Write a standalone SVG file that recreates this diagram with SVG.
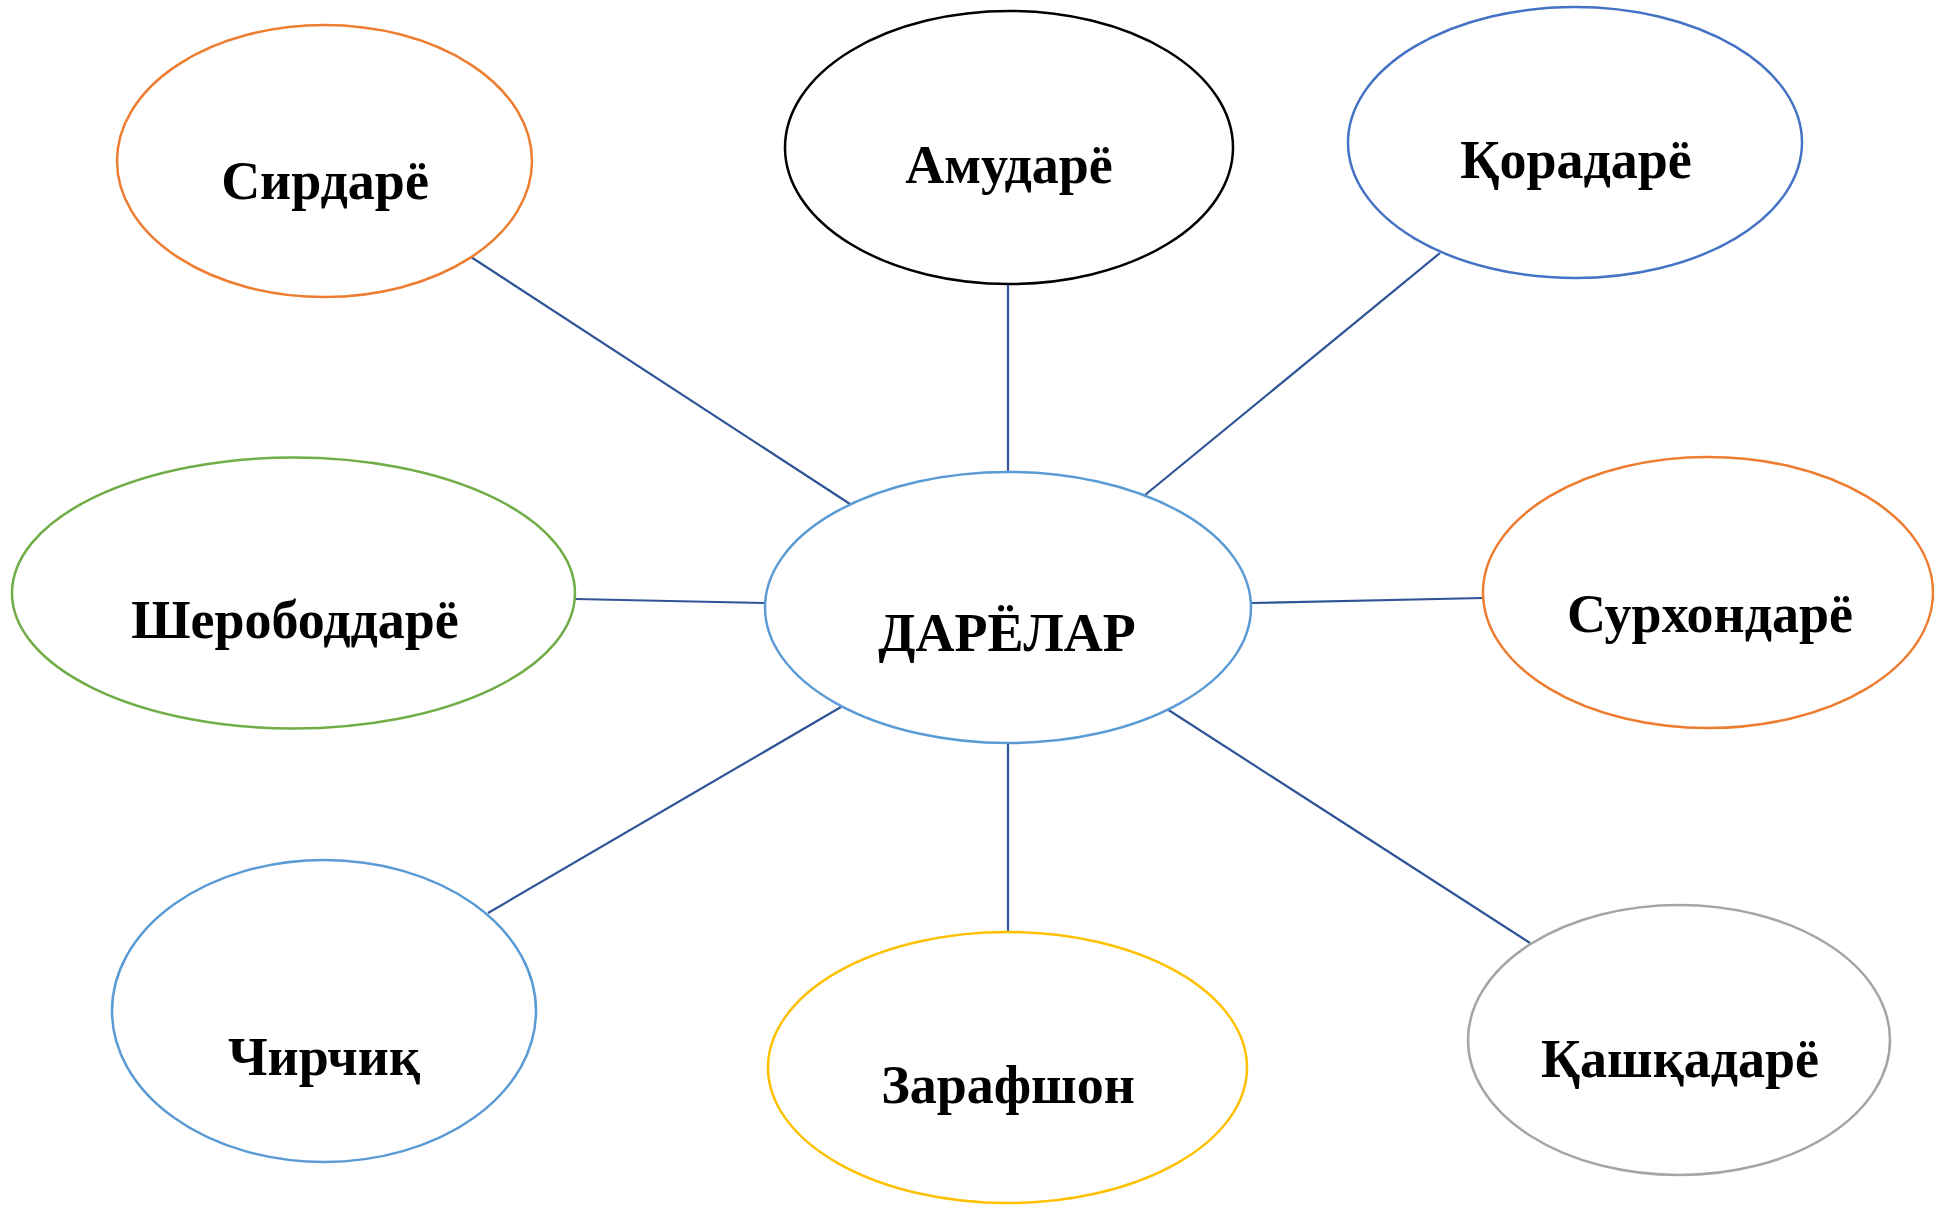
<svg xmlns="http://www.w3.org/2000/svg" width="1934" height="1205" viewBox="0 0 1934 1205">
<style>
.bg{fill:#ffffff}
.n{fill:#ffffff;stroke-width:2.5}
.c line{stroke:#2F5597;stroke-width:2.2}
.t{font-family:"Liberation Serif","Times New Roman",serif;font-weight:bold;font-size:54px;fill:#000;text-anchor:middle}
</style>
<rect class="bg" x="0" y="0" width="1934" height="1205"/>
<g id="connectors" class="c">
<line x1="471" y1="257" x2="850" y2="504"/>
<line x1="1008" y1="284" x2="1008" y2="472"/>
<line x1="1440" y1="253" x2="1145" y2="495"/>
<line x1="575" y1="599" x2="765" y2="603"/>
<line x1="1251" y1="603" x2="1483" y2="598"/>
<line x1="841" y1="707" x2="488" y2="913"/>
<line x1="1008" y1="743" x2="1008" y2="932"/>
<line x1="1167" y1="709" x2="1530" y2="943"/>
</g>
<g id="node-sirdaryo">
<ellipse class="n" cx="324.5" cy="161" rx="207.5" ry="136" stroke="#ED7D31"/>
<text class="t" x="325" y="199">Сирдарё</text>
</g>
<g id="node-amudaryo">
<ellipse class="n" cx="1009" cy="147.5" rx="224" ry="136.5" stroke="#000000"/>
<text class="t" x="1009" y="183">Амударё</text>
</g>
<g id="node-qoradaryo">
<ellipse class="n" cx="1575" cy="142.5" rx="227" ry="135.5" stroke="#4472C4"/>
<text class="t" x="1576" y="178">Қорадарё</text>
</g>
<g id="node-sherobod">
<ellipse class="n" cx="293.5" cy="593" rx="281.5" ry="135.5" stroke="#70AD47"/>
<text class="t" x="295" y="638">Шерободдарё</text>
</g>
<g id="node-center">
<ellipse class="n" cx="1008" cy="607.5" rx="243" ry="135.5" stroke="#5B9BD5"/>
<text class="t" x="1007" y="651">ДАРЁЛАР</text>
</g>
<g id="node-surxondaryo">
<ellipse class="n" cx="1708" cy="592.5" rx="225" ry="135.5" stroke="#ED7D31"/>
<text class="t" x="1710" y="632">Сурхондарё</text>
</g>
<g id="node-chirchiq">
<ellipse class="n" cx="324" cy="1011" rx="212" ry="151" stroke="#5B9BD5"/>
<text class="t" x="324" y="1075">Чирчиқ</text>
</g>
<g id="node-zarafshon">
<ellipse class="n" cx="1007.5" cy="1067.5" rx="239.5" ry="135.5" stroke="#FFC000"/>
<text class="t" x="1008" y="1103">Зарафшон</text>
</g>
<g id="node-qashqadaryo">
<ellipse class="n" cx="1679" cy="1040" rx="211" ry="135" stroke="#A5A5A5"/>
<text class="t" x="1680" y="1077">Қашқадарё</text>
</g>
</svg>
